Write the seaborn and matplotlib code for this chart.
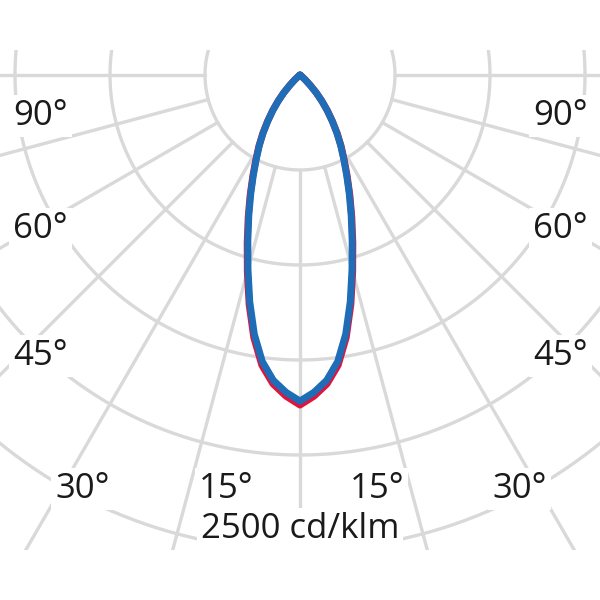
import matplotlib
matplotlib.use("Agg")
import matplotlib.pyplot as plt
import numpy as np
import pandas as pd
import seaborn as sns

# light distribution, cd/klm, gamma measured from nadir
gamma = [0, 2.5, 5, 7.5, 10, 12.5, 15, 17.5, 20, 22.5, 25, 27.5, 30, 32.5, 35, 37.5,
         40, 42.5, 45, 47.5, 50, 52.5, 55, 60, 65, 70, 75, 80, 85, 90]
c0_c180 = [1737, 1692, 1632, 1540, 1402, 1237, 1071, 924, 797, 686, 588, 504, 433, 365, 298, 238,
           180, 127, 75, 40, 18, 6, 0, 0, 0, 0, 0, 0, 0, 0]
c90_c270 = [1716, 1672, 1613, 1521, 1385, 1222, 1058, 913, 788, 678, 581, 498, 428, 361, 295, 235,
            178, 126, 74, 40, 18, 6, 0, 0, 0, 0, 0, 0, 0, 0]

ring_values = [500, 1000, 1500, 2000, 2500, 3000]
ray_angles = [-90, -75, -60, -45, -30, -15, 0, 15, 30, 45, 60, 75, 90]
scale_label = "2500 cd/klm"
left_labels = ["90°", "60°", "45°", "30°", "15°"]
right_labels = ["90°", "60°", "45°", "30°", "15°"]

GRID = "#d9d9d9"
RED = "#e0143c"
BLUE = "#1f6db6"


def to_frame(values: list[float], plane: str) -> pd.DataFrame:
    g = np.array(gamma, dtype=float)
    v = np.array(values, dtype=float)
    # mirror for the opposite half plane
    ang = np.concatenate([-g[::-1], g[1:]])
    r = np.concatenate([v[::-1], v[1:]])
    rad = np.deg2rad(ang)
    return pd.DataFrame({"x": r * np.sin(rad), "y": -r * np.cos(rad), "plane": plane})


df = pd.concat([to_frame(c0_c180, "C0-C180"), to_frame(c90_c270, "C90-C270")], ignore_index=True)

sns.set_theme(style="white")
plt.rcParams["font.family"] = ["Open Sans", "DejaVu Sans"]

fig = plt.figure(figsize=(6, 6), dpi=100)
ax = fig.add_axes([0, 0, 1, 1])
px = 475 / 2500
ax.set_xlim(-300 / px, 300 / px)
ax.set_ylim(-525 / px, 75 / px)
ax.set_aspect("equal")
ax.axis("off")

clip = plt.Rectangle((-2000, -2500), 4000, 2500 + 25 / px, transform=ax.transData)

t = np.linspace(0, 2 * np.pi, 720)
for rv in ring_values:
    (ln,) = ax.plot(rv * np.sin(t), rv * np.cos(t), color=GRID, lw=2.4, zorder=1)
    ln.set_clip_path(clip)
for a in ray_angles:
    rad = np.deg2rad(a)
    (ln,) = ax.plot([500 * np.sin(rad), 6000 * np.sin(rad)], [-500 * np.cos(rad), -6000 * np.cos(rad)],
                    color=GRID, lw=2.4, zorder=1)
    ln.set_clip_path(clip)

sns.lineplot(data=df, x="x", y="y", hue="plane", sort=False, estimator=None,
             palette={"C0-C180": RED, "C90-C270": BLUE}, linewidth=5, legend=False, ax=ax, zorder=3)
for line in ax.lines[-2:]:
    line.set_solid_joinstyle("round")
    line.set_solid_capstyle("round")
ax.set_xlabel("")
ax.set_ylabel("")

box = dict(facecolor="white", edgecolor="none", pad=3)
left_pos = [(13, 125), (13, 238), (13, 365), (55, 498), (199, 498)]
right_pos = [(588, 125), (588, 238), (588, 365), (547, 498), (404, 498)]
for txt, (x, y) in zip(left_labels, left_pos):
    ax.text(x / 600, 1 - y / 600, txt, transform=ax.transAxes, ha="left", va="baseline",
            fontsize=25, color="#1a1a1a", bbox=box, zorder=4)
for txt, (x, y) in zip(right_labels, right_pos):
    ax.text(x / 600, 1 - y / 600, txt, transform=ax.transAxes, ha="right", va="baseline",
            fontsize=25, color="#1a1a1a", bbox=box, zorder=4)
ax.text(0.5, 1 - 538 / 600, scale_label, transform=ax.transAxes, ha="center", va="baseline",
        fontsize=25, color="#1a1a1a", bbox=box, zorder=4)

fig.savefig("out.png", dpi=100, facecolor="white")
